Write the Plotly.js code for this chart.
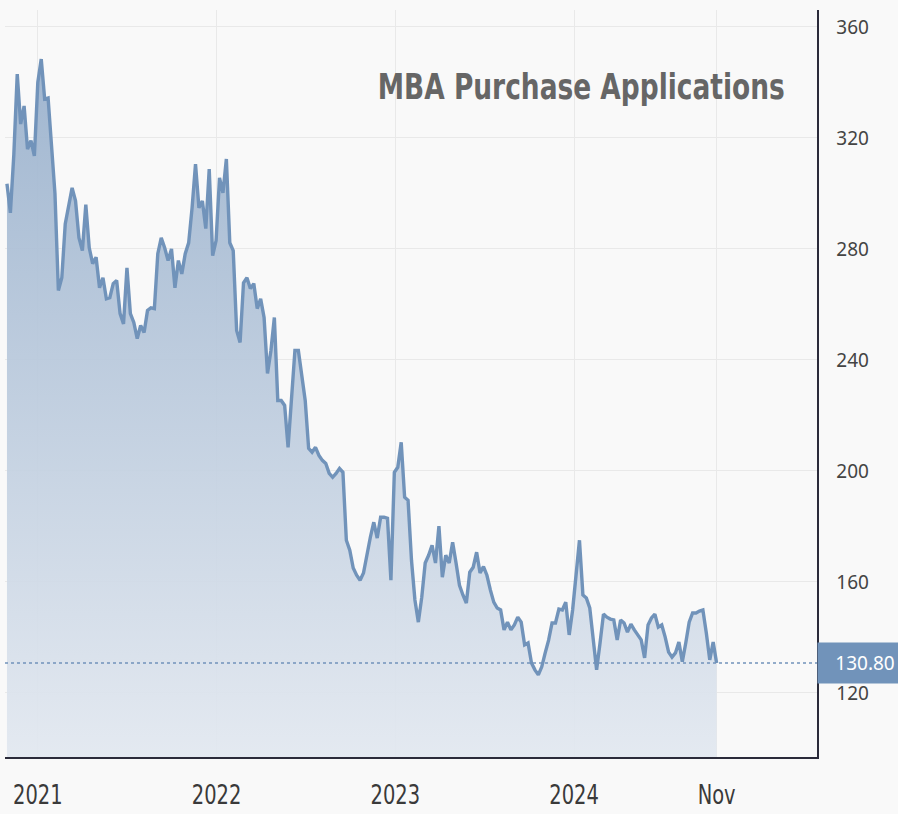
<!DOCTYPE html>
<html>
<head>
<meta charset="utf-8">
<script src="https://cdn.plot.ly/plotly-3.0.1.min.js"></script>
<style>
  html, body { margin: 0; padding: 0; background: #f9f9f9; }
  #chart { width: 898px; height: 814px; }
</style>
</head>
<body>
<div id="chart"></div>
<script>
// Weekly MBA Purchase Index
const firstWeek = '2020-10-30';
const values2020_21 = [303.5, 293, 314, 343, 325, 331.5, 316, 319, 313.5, 340, 348.4, 334, 334.4, 318, 300, 265,
  269.6, 289, 294.8, 302, 297.3, 284, 279.4, 296, 280.4, 274.7, 277, 266, 269.6, 262, 262.4, 267.5, 268.6,
  256.7, 253, 273.2, 256.7, 253.5, 247.7, 252.4, 249.9, 257.8, 258.8, 258.5, 278.3, 284, 280.4, 275.8, 280,
  266, 275.8, 271];
const values2021_22 = [278.3, 282.2, 294.8, 310.6, 294.8, 297.3, 287.3, 308.8, 277.6, 283, 305.6, 300.2, 312.4,
  282.2, 279.4, 250.6, 246.3, 267.8, 269.6, 265.7, 267.5, 258.5, 262, 255.3, 235.1, 243.4, 255.3, 225.4, 225.4,
  223.6, 208.5, 225.4, 243.4, 243.4, 235.1, 225.4, 208.1, 206.7, 208.5, 205.6, 203.8, 202.7, 199.1, 197.7,
  199.1, 200.9, 199.5, 175, 171.4, 165, 162.4, 160.6];
const values2022_23 = [163.2, 170.4, 176.1, 181.5, 175.8, 183.3, 183.3, 182.9, 160.6, 199.5, 201.3, 210.3, 190.5,
  189.4, 167.8, 153.5, 145.5, 154.5, 166.8, 169.6, 173.2, 166.8, 180.1, 161.7, 169.6, 166.8, 174.3, 166.8,
  158.8, 155.3, 152.4, 163.5, 165.3, 170.7, 163.2, 165.5, 162.4, 157.1, 152.7, 150.6, 149.9, 142.7, 145.5,
  142.7, 144.5, 147.3, 145.5, 137.3, 138, 130.8, 128.3, 126.5];
const values2023_24 = [129.4, 134.4, 139, 145.2, 145.2, 150.2, 149.9, 152.7, 140.9, 149.9, 163.2, 175, 155.3,
  154.2, 150.6, 140.1, 128.3, 138, 148.4, 147.3, 146.6, 146.3, 139.1, 146.3, 145.2, 141.9, 144.8, 142.7, 140.9,
  139.1, 132.6, 144.5, 147, 148.4, 143.7, 144.5, 140.1, 134.7, 132.9, 134.4, 138.3, 131.2, 138, 145.5, 148.8,
  148.8, 149.5, 149.9, 141.6, 131.9, 138.3, 130.8];

const yTicks = [120, 160, 200, 240, 280, 320, 360];
const xTickLabels = ['2021', '2022', '2023', '2024', 'Nov'];
const xTickYears = ['2021-01-01', '2022-01-01', '2023-01-01', '2024-01-01'];
const chartTitle = 'MBA Purchase Applications';

const values = [].concat(values2020_21, values2021_22, values2022_23, values2023_24);
const dates = values.map((v, i) => {
  const d = new Date(firstWeek + 'T00:00:00Z');
  d.setUTCDate(d.getUTCDate() + 7 * i);
  return d.toISOString().slice(0, 10);
});
const lastDate = dates[dates.length - 1];
const lastValue = values[values.length - 1];

const lineColor = '#7193ba';
const narrowFont = 'DejaVu Sans Condensed, DejaVu Sans, sans-serif';

const trace = {
  x: dates, y: values, type: 'scatter', mode: 'lines',
  line: { color: lineColor, width: 3.4 },
  fill: 'tozeroy',
  fillgradient: {
    type: 'vertical', start: 97, stop: 350,
    colorscale: [[0, 'rgba(226,232,240,0.92)'], [1, 'rgba(152,176,204,0.92)']]
  },
  hoverinfo: 'skip'
};

const layout = {
  width: 898, height: 814,
  margin: { l: 5, r: 81, t: 10, b: 57 },
  paper_bgcolor: '#f9f9f9', plot_bgcolor: '#f9f9f9',
  showlegend: false,
  xaxis: {
    type: 'date', range: ['2020-10-26', '2025-05-11'],
    tickvals: xTickYears.concat([lastDate]), ticktext: xTickLabels,
    showgrid: true, gridcolor: '#e9e9e9', gridwidth: 1,
    showline: true, linecolor: '#2b2b3a', linewidth: 1.5,
    ticks: '', ticklabelstandoff: 13,
    tickfont: { family: narrowFont, size: 27, color: '#3a3a3a' },
    zeroline: false, fixedrange: true
  },
  yaxis: {
    side: 'right', range: [96.9, 366.1], tickvals: yTicks,
    showgrid: true, gridcolor: '#e9e9e9', gridwidth: 1,
    showline: true, linecolor: '#2b2b3a', linewidth: 1.5,
    ticks: '', ticklabelstandoff: 14,
    tickfont: { family: 'Noto Sans, Open Sans, sans-serif', size: 19, color: '#444' },
    zeroline: false, fixedrange: true
  },
  shapes: [{
    type: 'line', xref: 'paper', x0: 0, x1: 1, yref: 'y', y0: lastValue, y1: lastValue,
    line: { color: lineColor, width: 1.5, dash: 'dot' }
  }],
  annotations: [
    {
      text: '<b>' + chartTitle + '</b>', xref: 'paper', yref: 'paper',
      x: 0.71, y: 0.897, xanchor: 'center', yanchor: 'middle', showarrow: false,
      font: { family: narrowFont, size: 36, color: '#666' }
    },
    {
      text: lastValue.toFixed(2), xref: 'paper', yref: 'y', x: 1, y: lastValue,
      xanchor: 'left', yanchor: 'middle', showarrow: false,
      bgcolor: lineColor, borderpad: 4, width: 86, height: 32, align: 'center',
      font: { family: 'Noto Sans, Open Sans, sans-serif', size: 19, color: '#ffffff' }
    }
  ]
};

function narrowText(el, factor, fixedLen) {
  const len = fixedLen || el.getComputedTextLength() * factor;
  el.setAttribute('textLength', len.toFixed(1));
  el.setAttribute('lengthAdjust', 'spacingAndGlyphs');
}

Plotly.newPlot('chart', [trace], layout, { displayModeBar: false, staticPlot: true }).then(gd => {
  gd.querySelectorAll('.xtick text').forEach(t => narrowText(t, 0.8));
  const titleText = gd.querySelector('.annotation .annotation-text');
  if (titleText) narrowText(titleText, 1, 407);
});
</script>
</body>
</html>
